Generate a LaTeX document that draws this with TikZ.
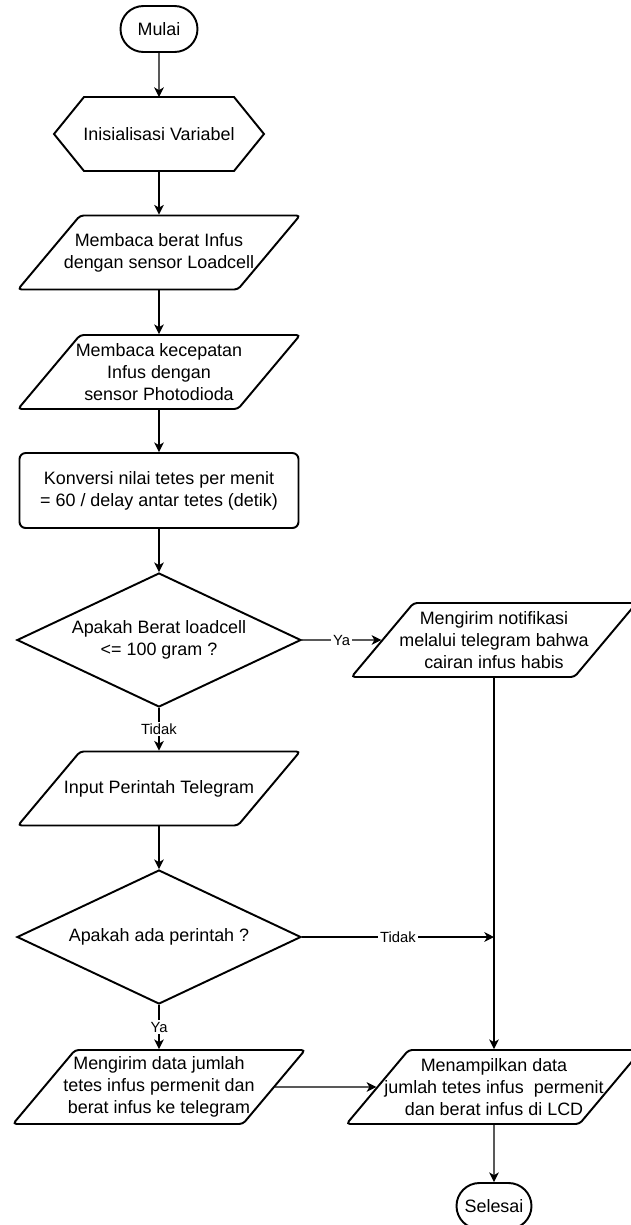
\documentclass[tikz,border=0pt]{standalone}
\usepackage{fontspec}
\setmainfont{Liberation Sans}
\usepackage{tikz}
\usetikzlibrary{arrows.meta}
\usetikzlibrary{shapes.geometric}
\usetikzlibrary{shapes.misc}
\tikzset{>={Stealth[length=5.5pt,width=5.5pt,inset=1.6pt]}}
\tikzset{
  box/.style={draw,line width=1.1pt},
  txt/.style={align=center,font=\fontsize{10.2pt}{12.5pt}\selectfont},
  term/.style={box,txt,rounded rectangle,minimum width=1.54cm,minimum height=0.92cm,inner sep=0pt},
  para/.style={box,trapezium,trapezium left angle=50,trapezium right angle=130,trapezium stretches body,text height=1.48cm,text depth=0pt,text width=0pt,minimum width=5.64cm,minimum height=1.48cm,inner sep=0pt,rounded corners=2pt},
  proc/.style={box,txt,rounded corners=3.5pt,minimum width=5.58cm,minimum height=1.5cm,inner sep=0pt},
  dec/.style={box,txt,diamond,aspect=2.1,minimum width=5.68cm,minimum height=2.68cm,inner sep=0pt},
  arr/.style={->,line width=0.75pt},
  lbl/.style={fill=white,inner sep=1pt,font=\fontsize{8.4pt}{10pt}\selectfont}
}

\begin{document}
\begin{tikzpicture}
\useasboundingbox (0,0) rectangle (12.6,-24.5);
\node[term] (mulai) at (3.18,-0.58) {Mulai};
\node[minimum width=3cm,minimum height=1.48cm,outer sep=0pt,label={[txt]center:Inisialisasi Variabel}] (init) at (3.18,-2.68) {};
\draw[box] (init.north west) -- (init.north east) -- ([xshift=0.6cm]init.east) -- (init.south east) -- (init.south west) -- ([xshift=-0.6cm]init.west) -- cycle;
\node[para,label={[txt]center:Membaca berat Infus\\dengan sensor Loadcell}] (baca1) at (3.18,-5.05) {};
\node[para,label={[txt]center:Membaca kecepatan\\Infus dengan\\sensor Photodioda}] (baca2) at (3.18,-7.44) {};
\node[proc] (konv) at (3.18,-9.81) {Konversi nilai tetes per menit\\= 60 / delay antar tetes (detik)};
\node[dec] (cek1) at (3.18,-12.8) {Apakah Berat loadcell\\<= 100 gram ?};
\node[para,minimum width=5.7cm,label={[txt]center:Mengirim notifikasi\\melalui telegram bahwa\\cairan infus habis}] (notif) at (9.88,-12.8) {};
\node[para,label={[txt]center:Input Perintah Telegram}] (input) at (3.18,-15.77) {};
\node[dec] (cek2) at (3.18,-18.74) {Apakah ada perintah ?};
\node[para,minimum width=5.84cm,label={[txt]center:Mengirim data jumlah\\tetes infus permenit dan\\berat infus ke telegram}] (kirim) at (3.18,-21.74) {};
\node[para,minimum width=5.9cm,label={[txt]center:Menampilkan data\\jumlah tetes infus\ \ permenit\\dan berat infus di LCD}] (tampil) at (9.88,-21.74) {};
\node[term,minimum width=1.5cm] (selesai) at (9.88,-24.12) {Selesai};
\coordinate (join) at (notif |- cek2);
\draw[arr] (mulai) -- (init);
\draw[arr] (init) -- (baca1);
\draw[arr] (baca1) -- (baca2);
\draw[arr] (baca2) -- (konv);
\draw[arr] (konv) -- (cek1);
\draw[arr] (cek1) -- node[lbl] {Ya} (notif);
\draw[arr] (cek1) -- node[lbl] {Tidak} (input);
\draw[arr] (input) -- (cek2);
\draw[arr] (cek2) -- node[lbl] {Ya} (kirim);
\draw[arr] (cek2) -- node[lbl] {Tidak} (join);
\draw[arr] (notif) -- (tampil);
\draw[arr] (kirim) -- (tampil);
\draw[arr] (tampil) -- (selesai);
\end{tikzpicture}
\end{document}
